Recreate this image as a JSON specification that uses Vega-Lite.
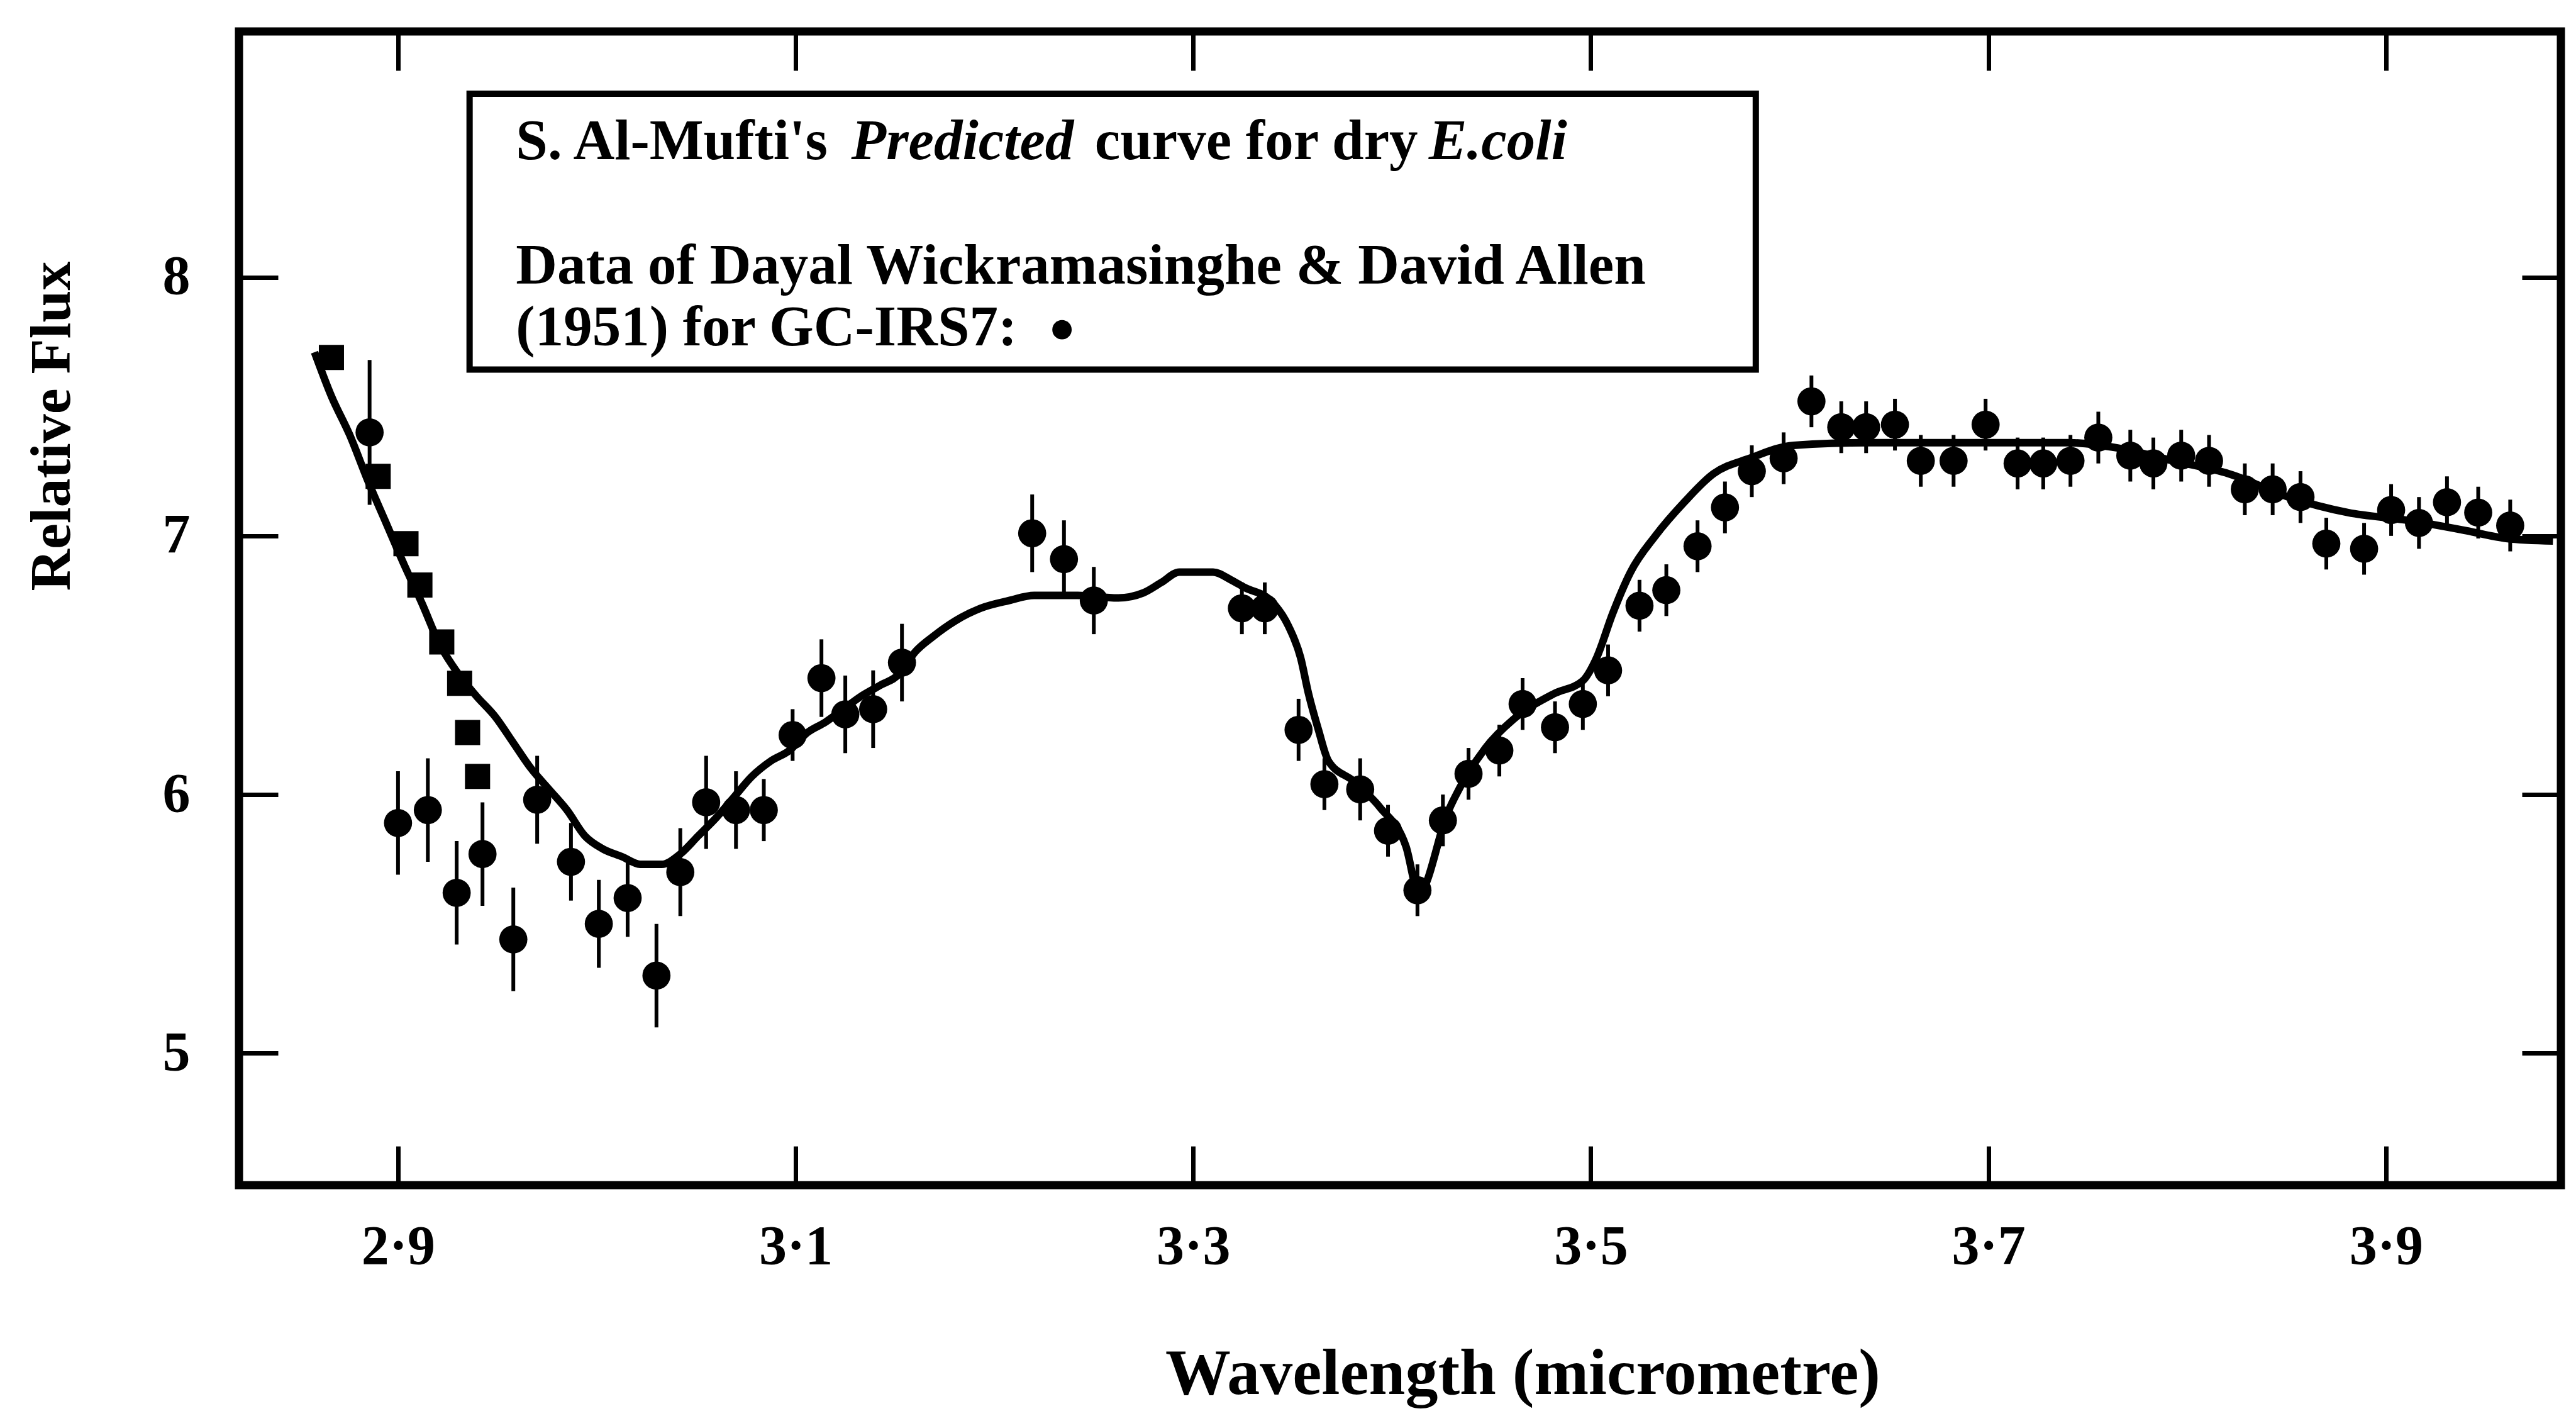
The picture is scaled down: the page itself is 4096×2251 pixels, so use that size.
{
  "$schema": "https://vega.github.io/schema/vega-lite/v6.json",
  "width": 3692,
  "height": 1834,
  "autosize": {"type": "none"},
  "padding": {"left": 380, "top": 50, "right": 24, "bottom": 367},
  "background": "white",
  "datasets": {
    "curve": [
      {"wl": 2.858, "flux": 7.71}, {"wl": 2.8665, "flux": 7.54}, {"wl": 2.8757, "flux": 7.39}, {"wl": 2.885, "flux": 7.21},
      {"wl": 2.894, "flux": 7.05}, {"wl": 2.903, "flux": 6.89}, {"wl": 2.912, "flux": 6.74}, {"wl": 2.921, "flux": 6.58},
      {"wl": 2.93, "flux": 6.47}, {"wl": 2.9395, "flux": 6.38}, {"wl": 2.949, "flux": 6.3}, {"wl": 2.958, "flux": 6.2},
      {"wl": 2.967, "flux": 6.1}, {"wl": 2.976, "flux": 6.02}, {"wl": 2.985, "flux": 5.94}, {"wl": 2.994, "flux": 5.84},
      {"wl": 3.003, "flux": 5.79}, {"wl": 3.0126, "flux": 5.76}, {"wl": 3.022, "flux": 5.73}, {"wl": 3.0326, "flux": 5.73},
      {"wl": 3.042, "flux": 5.77}, {"wl": 3.051, "flux": 5.84}, {"wl": 3.06, "flux": 5.91}, {"wl": 3.069, "flux": 5.99},
      {"wl": 3.078, "flux": 6.07}, {"wl": 3.0876, "flux": 6.13}, {"wl": 3.0968, "flux": 6.17}, {"wl": 3.106, "flux": 6.24},
      {"wl": 3.115, "flux": 6.28}, {"wl": 3.124, "flux": 6.33}, {"wl": 3.133, "flux": 6.38}, {"wl": 3.142, "flux": 6.42},
      {"wl": 3.1527, "flux": 6.47}, {"wl": 3.16, "flux": 6.55}, {"wl": 3.169, "flux": 6.61}, {"wl": 3.18, "flux": 6.67},
      {"wl": 3.193, "flux": 6.72}, {"wl": 3.2074, "flux": 6.75}, {"wl": 3.22, "flux": 6.77}, {"wl": 3.242, "flux": 6.77},
      {"wl": 3.262, "flux": 6.76}, {"wl": 3.275, "flux": 6.78}, {"wl": 3.284, "flux": 6.82}, {"wl": 3.293, "flux": 6.86},
      {"wl": 3.31, "flux": 6.86}, {"wl": 3.319, "flux": 6.83}, {"wl": 3.326, "flux": 6.8}, {"wl": 3.339, "flux": 6.75},
      {"wl": 3.348, "flux": 6.65}, {"wl": 3.354, "flux": 6.53}, {"wl": 3.358, "flux": 6.39}, {"wl": 3.363, "flux": 6.25},
      {"wl": 3.368, "flux": 6.13}, {"wl": 3.381, "flux": 6.05}, {"wl": 3.394, "flux": 5.95}, {"wl": 3.407, "flux": 5.8},
      {"wl": 3.4135, "flux": 5.62}, {"wl": 3.428, "flux": 5.93}, {"wl": 3.447, "flux": 6.18}, {"wl": 3.461, "flux": 6.29},
      {"wl": 3.4815, "flux": 6.39}, {"wl": 3.496, "flux": 6.44}, {"wl": 3.503, "flux": 6.53}, {"wl": 3.511, "flux": 6.7},
      {"wl": 3.52, "flux": 6.86}, {"wl": 3.5325, "flux": 7.0}, {"wl": 3.547, "flux": 7.13}, {"wl": 3.5617, "flux": 7.24},
      {"wl": 3.58, "flux": 7.3}, {"wl": 3.602, "flux": 7.35}, {"wl": 3.64, "flux": 7.36}, {"wl": 3.6874, "flux": 7.36},
      {"wl": 3.7115, "flux": 7.36}, {"wl": 3.741, "flux": 7.36}, {"wl": 3.765, "flux": 7.34}, {"wl": 3.793, "flux": 7.29},
      {"wl": 3.821, "flux": 7.24}, {"wl": 3.851, "flux": 7.15}, {"wl": 3.881, "flux": 7.09}, {"wl": 3.911, "flux": 7.06},
      {"wl": 3.9404, "flux": 7.02}, {"wl": 3.9605, "flux": 6.99}, {"wl": 3.984, "flux": 6.98}
    ],
    "squares": [
      {"wl": 2.8665, "flux": 7.69}, {"wl": 2.89, "flux": 7.23}, {"wl": 2.904, "flux": 6.97}, {"wl": 2.911, "flux": 6.81},
      {"wl": 2.922, "flux": 6.59}, {"wl": 2.931, "flux": 6.43}, {"wl": 2.935, "flux": 6.24}, {"wl": 2.94, "flux": 6.07}
    ],
    "dots": [
      {"wl": 2.8857, "flux": 7.4, "err": 0.28}, {"wl": 2.9, "flux": 5.89, "err": 0.2}, {"wl": 2.915, "flux": 5.94, "err": 0.2},
      {"wl": 2.9295, "flux": 5.62, "err": 0.2}, {"wl": 2.9425, "flux": 5.77, "err": 0.2}, {"wl": 2.958, "flux": 5.44, "err": 0.2},
      {"wl": 2.97, "flux": 5.98, "err": 0.17}, {"wl": 2.987, "flux": 5.74, "err": 0.15}, {"wl": 3.001, "flux": 5.5, "err": 0.17},
      {"wl": 3.0155, "flux": 5.6, "err": 0.15}, {"wl": 3.03, "flux": 5.3, "err": 0.2}, {"wl": 3.042, "flux": 5.7, "err": 0.17},
      {"wl": 3.055, "flux": 5.97, "err": 0.18}, {"wl": 3.07, "flux": 5.94, "err": 0.15}, {"wl": 3.084, "flux": 5.94, "err": 0.12},
      {"wl": 3.0985, "flux": 6.23, "err": 0.1}, {"wl": 3.113, "flux": 6.45, "err": 0.15}, {"wl": 3.125, "flux": 6.31, "err": 0.15},
      {"wl": 3.139, "flux": 6.33, "err": 0.15}, {"wl": 3.1535, "flux": 6.51, "err": 0.15}, {"wl": 3.219, "flux": 7.01, "err": 0.15},
      {"wl": 3.235, "flux": 6.91, "err": 0.15}, {"wl": 3.25, "flux": 6.75, "err": 0.13}, {"wl": 3.3245, "flux": 6.72, "err": 0.1},
      {"wl": 3.336, "flux": 6.72, "err": 0.1}, {"wl": 3.353, "flux": 6.25, "err": 0.12}, {"wl": 3.366, "flux": 6.04, "err": 0.1},
      {"wl": 3.384, "flux": 6.02, "err": 0.12}, {"wl": 3.398, "flux": 5.86, "err": 0.1}, {"wl": 3.4128, "flux": 5.63, "err": 0.1},
      {"wl": 3.4256, "flux": 5.9, "err": 0.1}, {"wl": 3.4385, "flux": 6.08, "err": 0.1}, {"wl": 3.454, "flux": 6.17, "err": 0.1},
      {"wl": 3.4657, "flux": 6.35, "err": 0.1}, {"wl": 3.482, "flux": 6.26, "err": 0.1}, {"wl": 3.496, "flux": 6.35, "err": 0.1},
      {"wl": 3.5087, "flux": 6.48, "err": 0.1}, {"wl": 3.5245, "flux": 6.73, "err": 0.1}, {"wl": 3.538, "flux": 6.79, "err": 0.1},
      {"wl": 3.5537, "flux": 6.96, "err": 0.1}, {"wl": 3.5675, "flux": 7.11, "err": 0.1}, {"wl": 3.581, "flux": 7.25, "err": 0.1},
      {"wl": 3.597, "flux": 7.3, "err": 0.1}, {"wl": 3.611, "flux": 7.52, "err": 0.1}, {"wl": 3.626, "flux": 7.42, "err": 0.1},
      {"wl": 3.6385, "flux": 7.42, "err": 0.1}, {"wl": 3.653, "flux": 7.43, "err": 0.1}, {"wl": 3.666, "flux": 7.29, "err": 0.1},
      {"wl": 3.6825, "flux": 7.29, "err": 0.1}, {"wl": 3.6986, "flux": 7.43, "err": 0.1}, {"wl": 3.7147, "flux": 7.28, "err": 0.1},
      {"wl": 3.7276, "flux": 7.28, "err": 0.1}, {"wl": 3.7413, "flux": 7.29, "err": 0.1}, {"wl": 3.7553, "flux": 7.38, "err": 0.1},
      {"wl": 3.7714, "flux": 7.31, "err": 0.1}, {"wl": 3.783, "flux": 7.28, "err": 0.1}, {"wl": 3.797, "flux": 7.31, "err": 0.1},
      {"wl": 3.811, "flux": 7.29, "err": 0.1}, {"wl": 3.829, "flux": 7.18, "err": 0.1}, {"wl": 3.843, "flux": 7.18, "err": 0.1},
      {"wl": 3.857, "flux": 7.15, "err": 0.1}, {"wl": 3.87, "flux": 6.97, "err": 0.1}, {"wl": 3.889, "flux": 6.95, "err": 0.1},
      {"wl": 3.9026, "flux": 7.1, "err": 0.1}, {"wl": 3.9166, "flux": 7.05, "err": 0.1}, {"wl": 3.9307, "flux": 7.13, "err": 0.1},
      {"wl": 3.9464, "flux": 7.09, "err": 0.1}, {"wl": 3.9625, "flux": 7.04, "err": 0.1}
    ],
    "legendPlain": [
      {"wl": 2.9593, "flux": 8.456, "t": "S. Al-Mufti's"},
      {"wl": 3.2505, "flux": 8.456, "t": "curve for dry"},
      {"wl": 2.9593, "flux": 7.976, "t": "Data of Dayal Wickramasinghe & David Allen"},
      {"wl": 2.9593, "flux": 7.736, "t": "(1951) for GC-IRS7:"}
    ],
    "legendItalic": [
      {"wl": 3.128, "flux": 8.456, "t": "Predicted"},
      {"wl": 3.4185, "flux": 8.456, "t": "E.coli"}
    ],
    "legendBullet": [
      {"wl": 3.234, "flux": 7.797}
    ]
  },
  "resolve": {"axis": {"x": "independent", "y": "independent"}},
  "layer": [
    {
      "data": {"values": [{}]},
      "mark": {"type": "rect", "fill": "white", "stroke": "black", "strokeWidth": 10},
      "encoding": {
        "x": {"datum": 2.936, "type": "quantitative", "scale": {"domain": [2.82, 3.988], "nice": false, "zero": false}, "axis": null},
        "x2": {"datum": 3.583},
        "y": {"datum": 8.709, "type": "quantitative", "scale": {"domain": [4.49, 8.95], "nice": false, "zero": false}, "axis": null},
        "y2": {"datum": 7.643}
      }
    },
    {
      "data": {"name": "curve"},
      "mark": {"type": "line", "color": "black", "strokeWidth": 12, "interpolate": "monotone"},
      "encoding": {
        "x": {"field": "wl", "type": "quantitative", "scale": {"domain": [2.82, 3.988], "nice": false, "zero": false},
          "axis": {"orient": "top", "values": [2.9, 3.1, 3.3, 3.5, 3.7, 3.9], "labels": false, "title": null}},
        "y": {"field": "flux", "type": "quantitative", "scale": {"domain": [4.49, 8.95], "nice": false, "zero": false},
          "axis": {"orient": "right", "values": [5, 6, 7, 8], "labels": false, "title": null}}
      }
    },
    {
      "data": {"name": "squares"},
      "mark": {"type": "point", "shape": "square", "filled": true, "color": "black", "size": 1600, "opacity": 1},
      "encoding": {
        "x": {"field": "wl", "type": "quantitative", "scale": {"domain": [2.82, 3.988], "nice": false, "zero": false}, "axis": null},
        "y": {"field": "flux", "type": "quantitative", "scale": {"domain": [4.49, 8.95], "nice": false, "zero": false}, "axis": null}
      }
    },
    {
      "data": {"name": "dots"},
      "mark": {"type": "errorbar", "color": "black", "thickness": 6},
      "encoding": {
        "x": {"field": "wl", "type": "quantitative", "scale": {"domain": [2.82, 3.988], "nice": false, "zero": false}, "axis": null},
        "y": {"field": "flux", "type": "quantitative", "scale": {"domain": [4.49, 8.95], "nice": false, "zero": false}, "axis": null},
        "yError": {"field": "err"}
      }
    },
    {
      "data": {"name": "dots"},
      "mark": {"type": "point", "shape": "circle", "filled": true, "color": "black", "size": 2000, "opacity": 1},
      "encoding": {
        "x": {"field": "wl", "type": "quantitative", "scale": {"domain": [2.82, 3.988], "nice": false, "zero": false},
          "axis": {"orient": "bottom", "values": [2.9, 3.1, 3.3, 3.5, 3.7, 3.9],
            "labelExpr": "replace(format(datum.value, '.1f'), '.', '·')",
            "labelPadding": 116, "labelBaseline": "top",
            "title": "Wavelength (micrometre)", "titleFontSize": 104, "titleX": 2041, "titleY": 331,
            "titleBaseline": "alphabetic", "titleAlign": "center", "titleAnchor": "middle"}},
        "y": {"field": "flux", "type": "quantitative", "scale": {"domain": [4.49, 8.95], "nice": false, "zero": false},
          "axis": {"orient": "left", "values": [5, 6, 7, 8], "format": "d", "labelPadding": 140,
            "title": "Relative Flux", "titleFontSize": 92, "titleX": -270, "titleY": 627,
            "titleBaseline": "alphabetic", "titleAlign": "center", "titleAngle": -90, "titleAnchor": "middle"}}
      }
    },
    {
      "data": {"name": "legendPlain"},
      "mark": {"type": "text", "align": "left", "baseline": "alphabetic", "font": "Liberation Serif", "fontWeight": "bold", "fontSize": 91, "color": "black"},
      "encoding": {
        "x": {"field": "wl", "type": "quantitative", "scale": {"domain": [2.82, 3.988], "nice": false, "zero": false}, "axis": null},
        "y": {"field": "flux", "type": "quantitative", "scale": {"domain": [4.49, 8.95], "nice": false, "zero": false}, "axis": null},
        "text": {"field": "t"}
      }
    },
    {
      "data": {"name": "legendItalic"},
      "mark": {"type": "text", "align": "left", "baseline": "alphabetic", "font": "Liberation Serif", "fontWeight": "bold", "fontStyle": "italic", "fontSize": 91, "color": "black"},
      "encoding": {
        "x": {"field": "wl", "type": "quantitative", "scale": {"domain": [2.82, 3.988], "nice": false, "zero": false}, "axis": null},
        "y": {"field": "flux", "type": "quantitative", "scale": {"domain": [4.49, 8.95], "nice": false, "zero": false}, "axis": null},
        "text": {"field": "t"}
      }
    },
    {
      "data": {"name": "legendBullet"},
      "mark": {"type": "point", "shape": "circle", "filled": true, "color": "black", "size": 950, "opacity": 1},
      "encoding": {
        "x": {"field": "wl", "type": "quantitative", "scale": {"domain": [2.82, 3.988], "nice": false, "zero": false}, "axis": null},
        "y": {"field": "flux", "type": "quantitative", "scale": {"domain": [4.49, 8.95], "nice": false, "zero": false}, "axis": null}
      }
    }
  ],
  "config": {
    "view": {"stroke": "black", "strokeWidth": 13},
    "font": "Liberation Serif",
    "axis": {
      "domain": false, "grid": false,
      "ticks": true, "tickColor": "black", "tickWidth": 7, "tickSize": -62,
      "labelFont": "Liberation Serif", "labelFontWeight": "bold", "labelFontSize": 88, "labelColor": "black",
      "labelFlush": false, "labelOverlap": false,
      "titleFont": "Liberation Serif", "titleFontWeight": "bold", "titleColor": "black"
    }
  }
}
